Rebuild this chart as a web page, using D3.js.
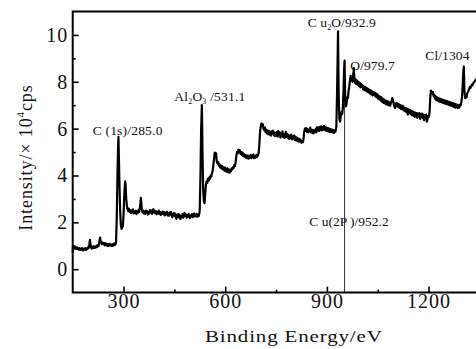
<!DOCTYPE html>
<html>
<head>
<meta charset="utf-8">
<script src="https://cdn.jsdelivr.net/npm/d3@7"></script>
<style>
  html, body { margin: 0; padding: 0; background: #fff; }
  svg { display: block; }
  text { font-family: "Liberation Serif", "DejaVu Serif", serif; fill: #111; }
</style>
</head>
<body>
<svg id="chart" width="476" height="349"></svg>
<script>
// XPS survey spectrum: [binding energy (eV), intensity (x10^4 cps)]
const spectrumLow = [
  [150,0.7],[151,1.0],[153,0.92],[155,0.97],[157,0.88],[159,0.94],[161,0.86],[163,0.93],[165,0.89],
  [167,0.84],[169,0.9],[171,0.82],[173,0.88],[175,0.83],[177,0.9],[179,0.85],[181,0.8],[183,0.88],
  [185,0.84],[187,0.9],[189,0.82],[191,0.88],[193,0.86],[195,0.93],[197,0.9],[199,1.02],[200,1.18],
  [201,1.25],[202,1.1],[204,0.95],[206,0.88],[208,0.95],[210,0.9],[212,0.98],[214,0.91],[216,0.96],
  [218,0.92],[220,1.0],[222,0.95],[224,1.03],[226,0.98],[228,1.12],[230,1.3],[231,1.35],[232,1.22],
  [234,1.12],[236,1.06],[238,1.14],[240,1.08],[242,1.12],[244,1.02],[246,1.1],[248,1.04],[250,1.09],
  [252,0.99],[254,1.06],[256,1.0],[258,1.08],[260,1.02],[262,1.06],[264,0.98],[266,1.05],[268,1.0],
  [270,1.08],[272,1.02],[274,1.1],[276,1.05],[278,1.15],
  [280,2.2],[282,4.0],[284,5.3],[285,5.65],[286,5.0],[288,3.6],[290,2.5],[292,1.9],[294,1.72],
  [296,1.78],[298,1.85],[300,2.3],[302,3.1],[304,3.6],[305,3.75],[306,3.6],[308,3.0],[310,2.7],
  [312,2.55],[314,2.48],[316,2.58],[318,2.45],[320,2.52],[322,2.4],[324,2.5],[326,2.42],[328,2.55],
  [330,2.38],[332,2.47],[334,2.4],[336,2.5],[338,2.35],[340,2.45],[342,2.4],[344,2.52],[346,2.44],
  [348,2.6],[350,2.85],[351,3.05],[352,2.9],[354,2.55],[356,2.42],[358,2.5],[360,2.38],[362,2.46],
  [364,2.36],[366,2.5],[368,2.4],[370,2.47],[372,2.33],[374,2.44],[376,2.38],[378,2.52],[380,2.42],
  [382,2.5],[384,2.36],[386,2.48],[388,2.56],[390,2.42],[392,2.5],[394,2.38],[396,2.47],[398,2.35],
  [400,2.45],[402,2.38],[404,2.5],[406,2.36],[408,2.44],[410,2.32],[412,2.42],[414,2.37],[416,2.46],
  [418,2.34],[420,2.44],[422,2.3],[424,2.4],[426,2.35],[428,2.45],[430,2.3],[432,2.38],[434,2.28],
  [436,2.42],[438,2.34],[440,2.44],[442,2.3],[444,2.22],[446,2.36],[448,2.3],[450,2.4],[452,2.26],
  [454,2.34],[456,2.15],[458,2.32],[460,2.24],[462,2.35],[464,2.2],[466,2.3],[468,2.14],[470,2.28],
  [472,2.22],[474,2.36],[476,2.2],[478,2.3],[480,2.4],[482,2.26],[484,2.34],[486,2.2],[488,2.3],
  [490,2.24],[492,2.36],[494,2.22],[496,2.18],[498,2.3],[500,2.25],[502,2.35],[504,2.22],[506,2.32],
  [508,2.38],[510,2.25],[512,2.33],[514,2.27],[516,2.36],[518,2.24],[520,2.3],[522,2.28],[524,2.4],
  [525,2.6]
];
const spectrumMid = [
  [527,4.0],[529,6.0],[531.1,7.0],[532,6.2],[533,5.0],[535,3.4],[537,2.9],[539,2.82],[541,3.2],
  [543,3.6],[545,3.75],[547,3.68],[549,3.86],[551,3.78],[553,3.92],[555,3.85],[557,4.0],[559,3.95],
  [561,4.1],[563,4.2],[565,4.45],[567,4.7],[569,4.98],[571,4.85],[573,4.95],[575,4.6],[577,4.52],
  [579,4.58],[581,4.42],[583,4.48],[585,4.35],[587,4.42],[589,4.3],[591,4.4],[593,4.26],[595,4.35],
  [597,4.22],[599,4.34],[601,4.18],[603,4.28],[605,4.16],[607,4.3],[609,4.14],[611,4.25],[613,4.12],
  [615,4.24],[617,4.18],[619,4.3],[621,4.26],[623,4.36],[625,4.32],[627,4.45],[629,4.4],[631,4.6],
  [633,4.85],[635,5.0],[637,4.95],[639,5.1],[641,5.02],[643,5.08],[645,4.92],[647,5.0],[649,4.88],
  [651,4.98],[653,4.84],[655,4.92],[657,4.8],[659,4.88],[661,4.76],[663,4.86],[665,4.74],[667,4.85],
  [669,4.72],[671,4.82],[673,4.76],[675,4.88],[677,4.74],[679,4.84],[681,4.78],[683,4.9],[685,4.74],
  [687,4.82],[689,4.76],[691,4.86],[693,4.78],[695,4.9],[697,4.85],[699,5.0],[701,5.4],[703,5.9],
  [705,6.1],[707,6.22],[709,6.1],[711,6.18],[713,6.0],[715,5.94],[717,6.05],[719,5.85],[721,5.96],
  [723,5.8],[725,5.92],[727,5.76],[729,5.9],[731,5.74],[733,5.86],[735,5.7],[737,5.88],[739,5.8],
  [741,5.92],[743,5.72],[745,5.84],[747,5.68],[749,5.82],[751,5.7],[753,5.86],[755,5.66],[757,5.9],
  [759,5.74],[761,5.84],[763,5.62],[765,5.8],[767,5.7],[769,5.88],[771,5.64],[773,5.76],[775,5.6],
  [777,5.74],[779,5.86],[781,5.66],[783,5.78],[785,5.62],[787,5.72],[789,5.56],[791,5.7],[793,5.6],
  [795,5.74],[797,5.54],[799,5.66],[801,5.58],[803,5.7],[805,5.52],[807,5.66],[809,5.5],[811,5.62],
  [813,5.48],[815,5.58],[817,5.44],[819,5.56],[821,5.46],[823,5.52],[825,5.4],[827,5.48],[829,5.42],
  [831,5.55],[833,5.85],[835,6.0],[837,5.9],[839,6.02],[841,5.86],[843,5.98],[845,5.84],[847,5.96],
  [849,5.88],[851,6.04],[853,5.84],[855,5.96],[857,5.82],[859,5.94],[861,5.8],[863,5.92],[865,5.86],
  [867,6.0],[869,5.84],[871,6.06],[873,5.92],[875,6.04],[877,5.9],[879,6.08],[881,5.94],[883,6.1],
  [885,5.92],[887,6.06],[889,5.96],[891,6.12],[893,5.94],[895,6.06],[897,5.92],[899,6.04],[901,5.9],
  [903,6.02],[905,5.88],[907,6.0],[909,5.86],[911,5.98],[913,5.86],[915,5.96],[917,5.84],[919,5.94],
  [921,5.82],[923,5.92],[925,5.86],[927,6.0],[928,6.1]
];
const spectrumCu = [
  [930,7.5],[932.9,10.15],[934,8.5],[935,7.3],[937,6.4],[939,6.3],[941,6.55],[943,6.7],[945,6.62],
  [947,6.85],[949,7.6],[951,8.6],[952.2,8.9],[953,8.2],[954,7.3],[956,6.95],[958,7.05],[960,7.35],
  [962,7.3],[964,7.6],[966,7.8],[968,8.05],[970,8.25],[972,8.05],[974,8.15],[976,8.0],[978,8.35],
  [979.7,8.58],[981,8.2],[983,7.95],[985,8.1],[987,7.9],[989,8.05]
];
const spectrumHigh = [
  [991,7.88],[993,8.0],[995,7.82],[997,7.95],[999,7.76],[1001,7.9],[1003,7.78],[1005,7.85],
  [1007,7.68],[1009,7.8],[1011,7.64],[1013,7.78],[1015,7.62],[1017,7.74],[1019,7.58],[1021,7.7],
  [1023,7.55],[1025,7.66],[1027,7.5],[1029,7.64],[1031,7.46],[1033,7.6],[1035,7.42],[1037,7.56],
  [1039,7.44],[1041,7.54],[1043,7.38],[1045,7.5],[1047,7.34],[1049,7.46],[1051,7.28],[1053,7.4],
  [1055,7.25],[1057,7.36],[1059,7.2],[1061,7.34],[1063,7.14],[1065,7.28],[1067,7.1],[1069,7.24],
  [1071,7.08],[1073,7.2],[1075,7.04],[1077,7.18],[1079,7.02],[1081,7.15],[1083,7.0],[1085,7.12],
  [1087,6.98],[1089,7.1],[1091,7.2],[1093,7.3],[1095,7.22],[1097,7.08],[1099,6.95],[1101,6.88],
  [1103,7.02],[1105,7.1],[1107,6.96],[1109,7.08],[1111,6.92],[1113,7.04],[1115,6.88],[1117,7.0],
  [1119,6.84],[1121,6.98],[1123,6.82],[1125,6.95],[1127,6.78],[1129,6.9],[1131,6.74],[1133,6.88],
  [1135,6.7],[1137,6.85],[1139,6.6],[1141,6.82],[1143,6.68],[1145,6.8],[1147,6.62],[1149,6.76],
  [1151,6.58],[1153,6.74],[1155,6.56],[1157,6.7],[1159,6.5],[1161,6.68],[1163,6.54],[1165,6.66],
  [1167,6.46],[1169,6.64],[1171,6.52],[1173,6.66],[1175,6.42],[1177,6.62],[1179,6.5],[1181,6.64],
  [1183,6.44],[1185,6.6],[1187,6.36],[1189,6.58],[1191,6.46],[1193,6.6],[1195,6.3],[1197,6.4],
  [1199,6.55],[1201,6.5],[1203,6.7],[1205,7.3],[1207,7.62],[1209,7.55],[1211,7.5],[1213,7.56],
  [1215,7.38],[1217,7.44],[1219,7.28],[1221,7.38],[1223,7.22],[1225,7.34],[1227,7.2],[1229,7.3],
  [1231,7.16],[1233,7.28],[1235,7.14],[1237,7.26],[1239,7.12],[1241,7.24],[1243,7.1],[1245,7.22],
  [1247,7.08],[1249,7.2],[1251,7.06],[1253,7.18],[1255,7.04],[1257,7.16],[1259,7.02],[1261,7.14],
  [1263,7.0],[1265,7.12],[1267,6.98],[1269,7.1],[1271,6.96],[1273,7.08],[1275,6.92],[1277,7.06],
  [1279,6.9],[1281,7.04],[1283,6.92],[1285,7.02],[1287,6.88],[1289,7.0],[1291,6.9],[1293,7.02],
  [1295,7.0],[1297,7.15],[1299,7.4],[1301,7.9],[1302,8.3],[1304,8.65],[1305,8.2],[1306,7.6],
  [1308,7.3],[1310,7.38],[1312,7.34],[1314,7.5],[1316,7.56],[1318,7.62],[1320,7.7],[1322,7.78],
  [1324,7.74],[1326,7.82],[1328,7.88],[1330,7.85],[1332,7.95],[1334,7.98],[1336,8.02],[1338,8.06],
  [1341,8.12]
];

// Axis ticks
const xTicks = [300, 600, 900, 1200];
const xMinorTicks = [450, 750, 1050];
const yTicks = [0, 2, 4, 6, 8, 10];
const yMinorTicks = [1, 3, 5, 7, 9];

// Peak assignments and their binding energies (eV)
const peakEnergies = { c1s: 285.0, al2o3: 531.1, cu2o: 932.9, o: 979.7, cl: 1304, cu2p: 952.2 };

const svg = d3.select("#chart");
const x = d3.scaleLinear().domain([150, 1340]).range([72.7, 476]);
const y = d3.scaleLinear().domain([-1, 11]).range([292.6, 11.5]);

const spectrum = spectrumLow.concat(spectrumMid, spectrumCu, spectrumHigh);

// Drop line under the Cu 2p peak
svg.append("line")
  .attr("x1", x(peakEnergies.cu2p)).attr("x2", x(peakEnergies.cu2p))
  .attr("y1", y(-1)).attr("y2", y(8.9))
  .attr("stroke", "#333").attr("stroke-width", 1);

// Spectrum trace
svg.append("path")
  .datum(spectrum)
  .attr("fill", "none")
  .attr("stroke", "#000")
  .attr("stroke-width", 2.2)
  .attr("stroke-linejoin", "round")
  .attr("d", d3.line().x(d => x(d[0])).y(d => y(d[1])));

// Axes (ticks point inward)
const gx = svg.append("g").attr("transform", `translate(0,${y(-1)})`)
  .call(d3.axisBottom(x).tickValues(xTicks).tickSizeInner(-6).tickSizeOuter(0).tickPadding(1.5).tickFormat(d3.format("d")));
const gxm = svg.append("g").attr("transform", `translate(0,${y(-1)})`)
  .call(d3.axisBottom(x).tickValues(xMinorTicks).tickSizeInner(-3).tickSizeOuter(0).tickFormat(""));
const gy = svg.append("g").attr("transform", `translate(${x(150)},0)`)
  .call(d3.axisLeft(y).tickValues(yTicks).tickSizeInner(-6).tickSizeOuter(0).tickPadding(4.5).tickFormat(d3.format("d")));
const gym = svg.append("g").attr("transform", `translate(${x(150)},0)`)
  .call(d3.axisLeft(y).tickValues(yMinorTicks).tickSizeInner(-3).tickSizeOuter(0).tickFormat(""));

[gx, gxm, gy, gym].forEach(g => {
  g.select(".domain").remove();
  g.selectAll(".tick line").attr("stroke", "#000").attr("stroke-width", 1.6);
  g.selectAll(".tick text")
    .attr("font-family", "Liberation Serif, serif")
    .attr("font-size", 20)
    .attr("letter-spacing", 1)
    .attr("fill", "#111");
});
// Minor ticks carry no labels
[gxm, gym].forEach(g => g.selectAll(".tick text").remove());

// Frame: left, top and bottom borders
svg.append("path")
  .attr("d", `M476,${y(11)}H${x(150)}V${y(-1)}H476`)
  .attr("fill", "none").attr("stroke", "#000").attr("stroke-width", 2);

// Axis titles
svg.append("text")
  .attr("transform", "translate(205,341.5) scale(1.2,1)")
  .attr("font-size", 17.5)
  .attr("letter-spacing", 0.7)
  .text("Binding Energy/eV");

const yt = svg.append("text")
  .attr("transform", "translate(31.5,157.5) rotate(-90)")
  .attr("text-anchor", "middle")
  .attr("font-size", 18)
  .attr("letter-spacing", 0.9);
yt.append("tspan").text("Intensity/× 10");
yt.append("tspan").attr("font-size", 11).attr("dy", -8).text("4");
yt.append("tspan").attr("dy", 8).text("cps");

// Peak labels; subscripts drop 3px and the following run returns to the baseline
function peakLabel(px, py, parts, spacing) {
  const t = svg.append("text").attr("x", px).attr("y", py)
    .attr("font-size", 13.5).attr("letter-spacing", spacing);
  let shifted = false;
  parts.forEach(p => {
    if (p.sub) {
      t.append("tspan").attr("font-size", 8).attr("dy", shifted ? 0 : 3).text(p.sub);
      shifted = true;
    } else {
      t.append("tspan").attr("dy", shifted ? -3 : 0).text(p.t);
      shifted = false;
    }
  });
}
const fmt1 = d3.format(".1f");
peakLabel(92.7, 135, [{t: "C (1s)/" + fmt1(peakEnergies.c1s)}], 0.2);
peakLabel(174.3, 101, [{t: "Al"}, {sub: "2"}, {t: "O"}, {sub: "3"}, {t: " /" + fmt1(peakEnergies.al2o3)}], 0.2);
peakLabel(307.7, 26.7, [{t: "C u"}, {sub: "2"}, {t: "O/" + fmt1(peakEnergies.cu2o)}], 0.1);
peakLabel(350.3, 70, [{t: "O/" + fmt1(peakEnergies.o)}], 0.1);
peakLabel(425.3, 60, [{t: "Cl/" + peakEnergies.cl}], 0.1);
peakLabel(309.3, 225.7, [{t: "C u(2P )/" + fmt1(peakEnergies.cu2p)}], 0);
</script>
</body>
</html>
